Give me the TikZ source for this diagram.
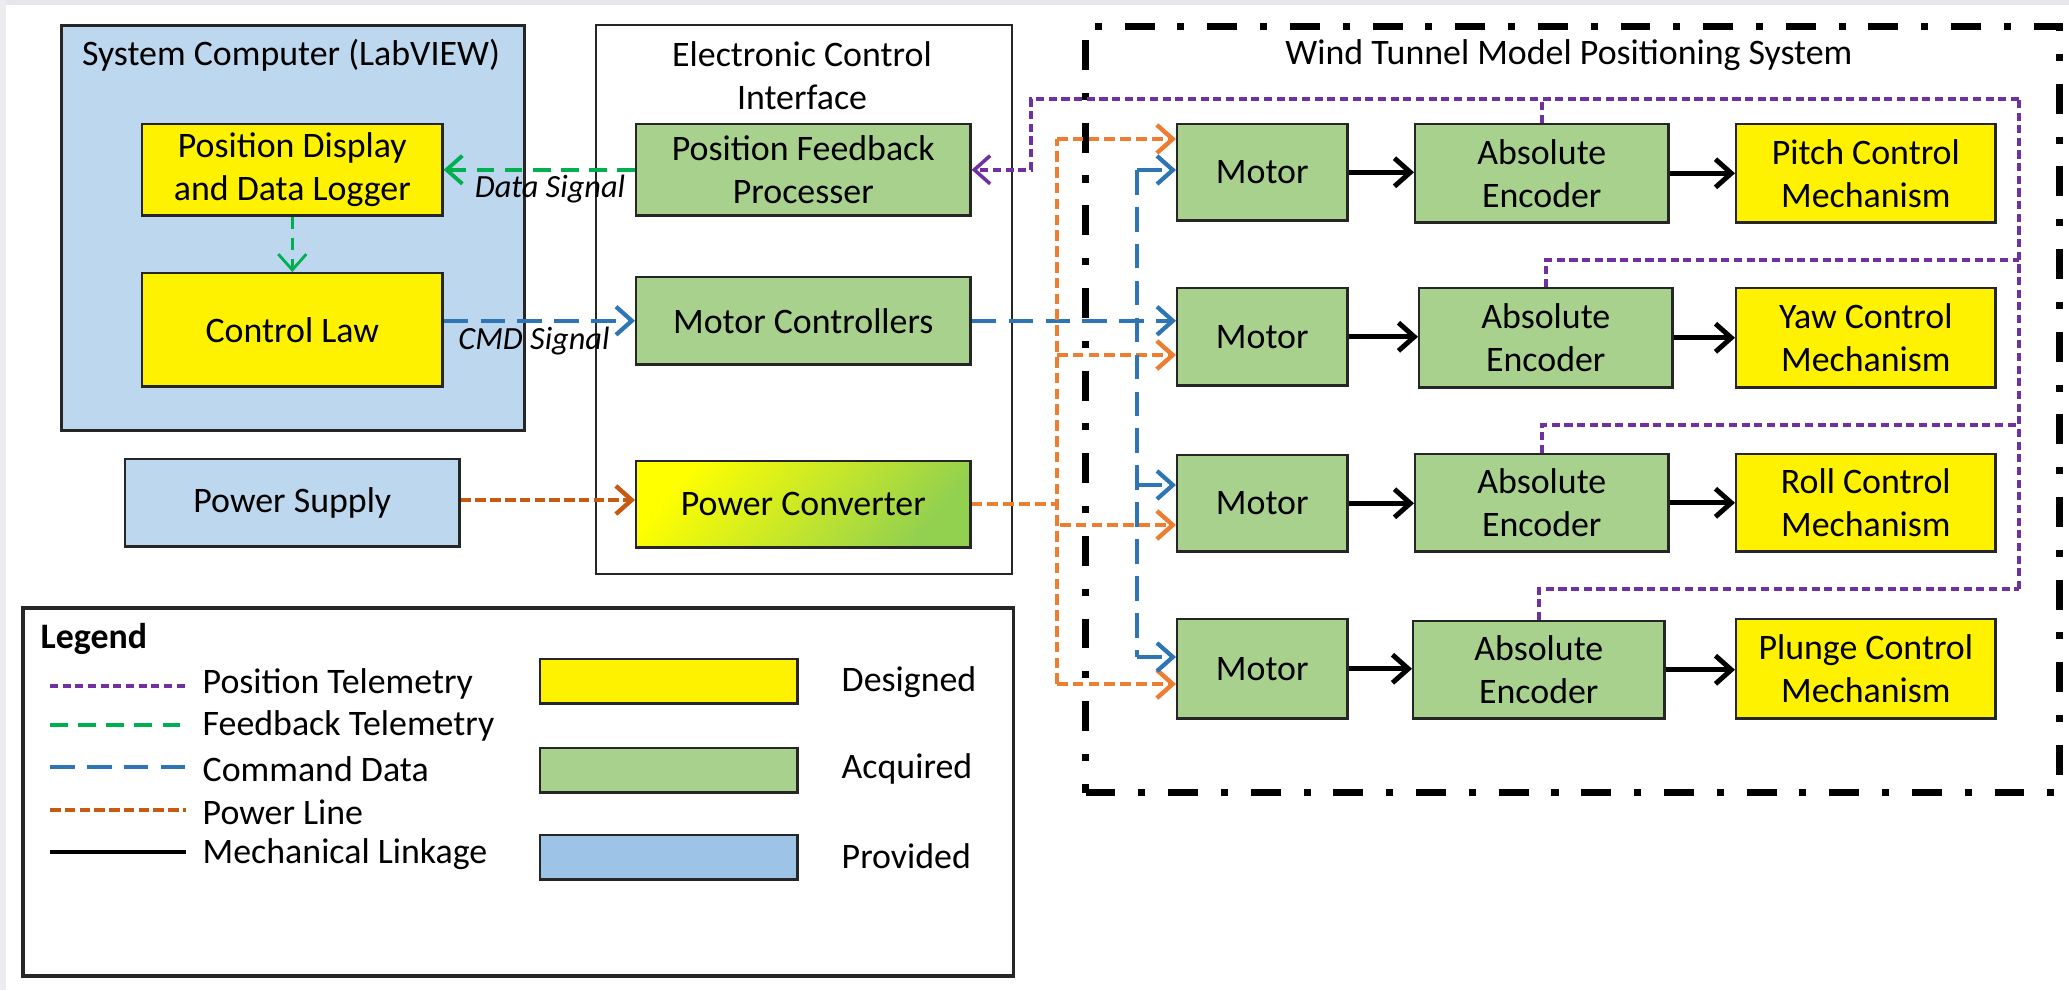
\documentclass[tikz,border=0pt]{standalone}
\usepackage{fontspec}
\setmainfont{Carlito}
\usetikzlibrary{arrows.meta}
\definecolor{grnfill}{RGB}{169,209,142}
\definecolor{blufill}{RGB}{189,215,238}
\definecolor{provfill}{RGB}{157,195,230}
\definecolor{convgreen}{RGB}{146,208,80}
\definecolor{purp}{RGB}{112,48,160}
\definecolor{glin}{RGB}{0,176,80}
\definecolor{blin}{RGB}{46,117,182}
\definecolor{olight}{RGB}{237,125,49}
\definecolor{odark}{RGB}{197,90,17}
\definecolor{bgband}{RGB}{230,230,236}
\newcommand\mainsz{\fontsize{10.2pt}{12.2pt}\selectfont}
\tikzset{
  box/.style={draw=black!85, line width=0.7pt, inner sep=0pt, align=center, anchor=north west, font=\mainsz},
  yel/.style={box, fill=yellow},
  grn/.style={box, fill=grnfill},
  blu/.style={box, fill=blufill},
  ttl/.style={inner sep=0pt, align=center, font=\mainsz},
  lbl/.style={inner sep=0pt, font=\fontsize{9.2pt}{11pt}\selectfont\itshape},
  tip/.style={-{Straight Barb[length=4.5pt,width=8pt]}},
  purpline/.style={draw=purp, line width=1.0pt, dash pattern=on 2.3pt off 1.3pt},
  gline/.style={draw=glin, line width=1.1pt, dash pattern=on 5pt off 3pt},
  bline/.style={draw=blin, line width=1.2pt, dash pattern=on 7pt off 3.5pt},
  oline/.style={draw=olight, line width=1.25pt, dash pattern=on 3pt off 1.5pt},
  odline/.style={draw=odark, line width=1.25pt, dash pattern=on 3pt off 1.2pt},
  mline/.style={draw=black, line width=1.4pt},
  dashdotframe/.style={draw=black, line width=2pt, dash pattern=on 8.5pt off 6.5pt on 2pt off 6.5pt},
  legtxt/.style={inner sep=0pt, anchor=west, font=\mainsz}
}
\begin{document}
\begin{tikzpicture}[x=0.01cm, y=-0.01cm]
\useasboundingbox (0,0) rectangle (2069,990);
\fill[white] (0,0) rectangle (2069,990);
\fill[bgband] (0,0) rectangle (2069,5);
\fill[bgband!80!white] (0,0) rectangle (6,990);

% System computer
\node[blu, line width=0.8pt, minimum width=4.63cm, minimum height=4.05cm] (sys) at (60,24) {};
\node[ttl] (systitle) at (291,55) {System Computer (LabVIEW)};
\node[yel, minimum width=3.00cm, minimum height=0.91cm] (pd) at (141,123) {Position Display\\and Data Logger};
\node[yel, minimum width=3.00cm, minimum height=1.13cm] (cl) at (141,272) {Control Law};
\node[blu, minimum width=3.34cm, minimum height=0.87cm] (ps) at (124,458) {Power Supply};

% Electronic control interface
\node[box, line width=0.55pt, minimum width=4.16cm, minimum height=5.49cm] (eci) at (595,24) {};
\node[ttl] (ecititle) at (802,76) {Electronic Control\\Interface};
\node[grn, minimum width=3.34cm, minimum height=0.91cm] (pfp) at (635,123) {Position Feedback\\Processer};
\node[grn, minimum width=3.34cm, minimum height=0.87cm] (mc) at (635,276) {Motor Controllers};
\node[box, left color=yellow, right color=convgreen, shading angle=50, minimum width=3.34cm, minimum height=0.86cm] (pc) at (635,460) {Power Converter};

% Wind tunnel frame
\node[dashdotframe, inner sep=0pt, anchor=north west, minimum width=9.73cm, minimum height=7.66cm] (wt) at (1082,23) {};
\node[ttl] (wttitle) at (1569,55) {Wind Tunnel Model Positioning System};

% Rows
\node[grn, minimum width=1.70cm, minimum height=0.96cm] (m1) at (1176,123) {Motor};
\node[grn, minimum width=1.70cm, minimum height=0.97cm] (m2) at (1176,287) {Motor};
\node[grn, minimum width=1.70cm, minimum height=0.96cm] (m3) at (1176,454) {Motor};
\node[grn, minimum width=1.70cm, minimum height=0.99cm] (m4) at (1176,618) {Motor};
\node[grn, minimum width=2.53cm, minimum height=0.98cm] (e1) at (1414,123) {Absolute\\Encoder};
\node[grn, minimum width=2.53cm, minimum height=0.99cm] (e2) at (1418,287) {Absolute\\Encoder};
\node[grn, minimum width=2.53cm, minimum height=0.97cm] (e3) at (1414,453) {Absolute\\Encoder};
\node[grn, minimum width=2.51cm, minimum height=0.97cm] (e4) at (1412,620) {Absolute\\Encoder};
\node[yel, minimum width=2.59cm, minimum height=0.98cm] (k1) at (1735,123) {Pitch Control\\Mechanism};
\node[yel, minimum width=2.59cm, minimum height=0.99cm] (k2) at (1735,287) {Yaw Control\\Mechanism};
\node[yel, minimum width=2.59cm, minimum height=0.97cm] (k3) at (1735,453) {Roll Control\\Mechanism};
\node[yel, minimum width=2.59cm, minimum height=0.99cm] (k4) at (1735,618) {Plunge Control\\Mechanism};

% Mechanical linkages
\foreach \i in {1,2,3,4}{
  \draw[mline, tip] (m\i.east) -- (m\i.east -| e\i.west);
  \draw[mline, tip] (e\i.east) -- (e\i.east -| k\i.west);
}

% Feedback / command
\draw[gline, tip] (pfp.west) -- (pfp.west -| pd.east);
\draw[draw=glin, line width=0.8pt, dash pattern=on 3.5pt off 2.5pt, tip] (pd.south) -- (cl.north);
\node[lbl] (dsig) at (550,189) {Data Signal};
\draw[bline, tip] (cl.east |- mc.west) -- (mc.west);
\node[lbl] (csig) at (534,341) {CMD Signal};
\draw[bline, tip] (mc.east) -- (mc.east -| m2.west);

% Power
\draw[odline, tip] (ps.east |- 0,500) coordinate (psout) -- (psout -| pc.west);
\coordinate (oTop) at (1057,139);
\coordinate (o2) at (1057,355);
\coordinate (o3) at (1060,525);
\coordinate (oBot) at (1057,684);
\draw[oline] (pc.east) -- (pc.east -| oTop);
\draw[oline] (oBot) -- (oTop);
\draw[oline, tip] (oTop) -- (oTop -| m1.west);
\draw[oline, tip] (o2) -- (o2 -| m2.west);
\draw[oline, tip] (o3) -- (o3 -| m3.west);
\draw[oline, tip] (oBot) -- (oBot -| m4.west);

% Command distribution
\coordinate (bTop) at (1137,170);
\coordinate (b3) at (1137,485);
\coordinate (bBot) at (1137,657);
\draw[bline] (bTop) -- (bBot);
\draw[bline, tip] (bTop) -- (bTop -| m1.west);
\draw[bline, tip] (b3) -- (b3 -| m3.west);
\draw[bline, tip] (bBot) -- (bBot -| m4.west);

% Position telemetry
\coordinate (pTR) at (2019,99);
\coordinate (pTL) at (1031,99);
\coordinate (p2) at (2019,260);
\coordinate (p3) at (2019,425);
\coordinate (p4) at (2019,589);
\draw[purpline] (p4) -- (pTR);
\draw[purpline, tip] (pTR) -- (pTL) |- (pfp.east);
\draw[purpline] (e1.north) -- (e1.north |- pTR);
\draw[purpline] (e2.north) |- (p2);
\draw[purpline] (e3.north) |- (p3);
\draw[purpline] (e4.north) |- (p4);

% Legend
\node[box, line width=1.1pt, minimum width=9.90cm, minimum height=3.68cm] (leg) at (21,606) {};
\node[inner sep=0pt, anchor=west, font=\mainsz\bfseries] (legt) at (40,639) {Legend};
\coordinate (l1) at (50,686);
\coordinate (l2) at (50,725);
\coordinate (l3) at (50,767);
\coordinate (l4) at (50,810);
\coordinate (l5) at (50,852);
\draw[purpline] (l1) -- ++(136,0);
\draw[gline] (l2) -- ++(136,0);
\draw[bline] (l3) -- ++(136,0);
\draw[odline] (l4) -- ++(136,0);
\draw[mline] (l5) -- ++(136,0);
\node[legtxt] (t1) at (202,684) {Position Telemetry};
\node[legtxt] (t2) at (202,726) {Feedback Telemetry};
\node[legtxt] (t3) at (202,769) {Command Data};
\node[legtxt] (t4) at (202,812) {Power Line};
\node[legtxt] (t5) at (202,854) {Mechanical Linkage};
\node[yel, minimum width=2.57cm, minimum height=0.44cm] (s1) at (539,658) {};
\node[grn, minimum width=2.57cm, minimum height=0.44cm] (s2) at (539,747) {};
\node[box, fill=provfill, minimum width=2.57cm, minimum height=0.44cm] (s3) at (539,834) {};
\node[legtxt] (d1) at (841,682) {Designed};
\node[legtxt] (d2) at (841,769) {Acquired};
\node[legtxt] (d3) at (841,856) {Provided};
\end{tikzpicture}
\end{document}
